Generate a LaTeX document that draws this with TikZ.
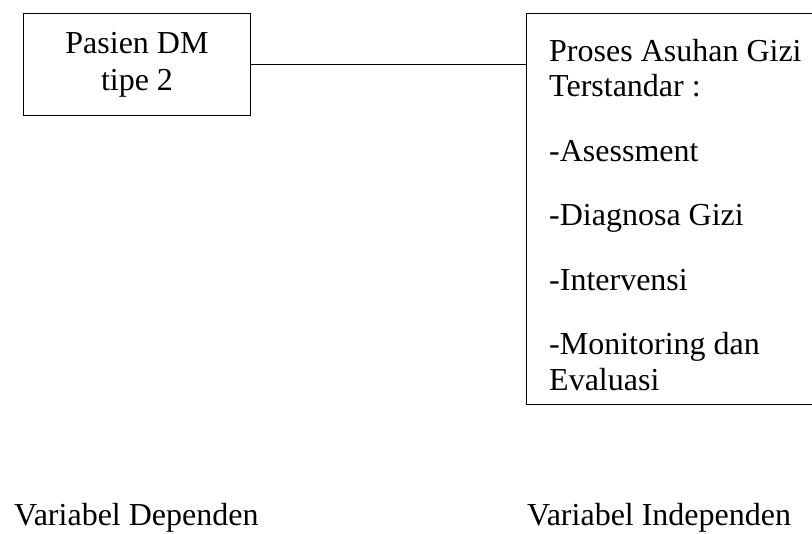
\documentclass[tikz,border=0pt]{standalone}
\usepackage{fontspec}
\setmainfont{Liberation Serif}
\usetikzlibrary{positioning}

\begin{document}
\begin{tikzpicture}[
  x=1pt, y=-1pt,
  every node/.style={inner sep=0pt, font=\fontsize{32}{35.5}\selectfont},
  box/.style={draw, line width=1pt},
  label/.style={anchor=base west}
]
\clip (0,0) rectangle (812,534);
\node[box, align=center, minimum width=227, minimum height=102, anchor=north west] (pasien) at (23,13) {Pasien DM\\[1.5pt]tipe 2};
\node[box, minimum width=330, minimum height=391, anchor=north west] (asuhan) at (526,13) {};
\node[anchor=north west, align=left] (asuhanteks) at (549,39) {Proses Asuhan Gizi\\Terstandar :\\[29pt]-Asessment\\[29pt]-Diagnosa Gizi\\[29pt]-Intervensi\\[29pt]-Monitoring dan\\Evaluasi};
\draw[line width=1pt] (pasien.east) -- (pasien.east -| asuhan.west);
\node[label] (dependen) at (14,526) {Variabel Dependen};
\node[label] (independen) at (527,526) {Variabel Independen};
\end{tikzpicture}
\end{document}
